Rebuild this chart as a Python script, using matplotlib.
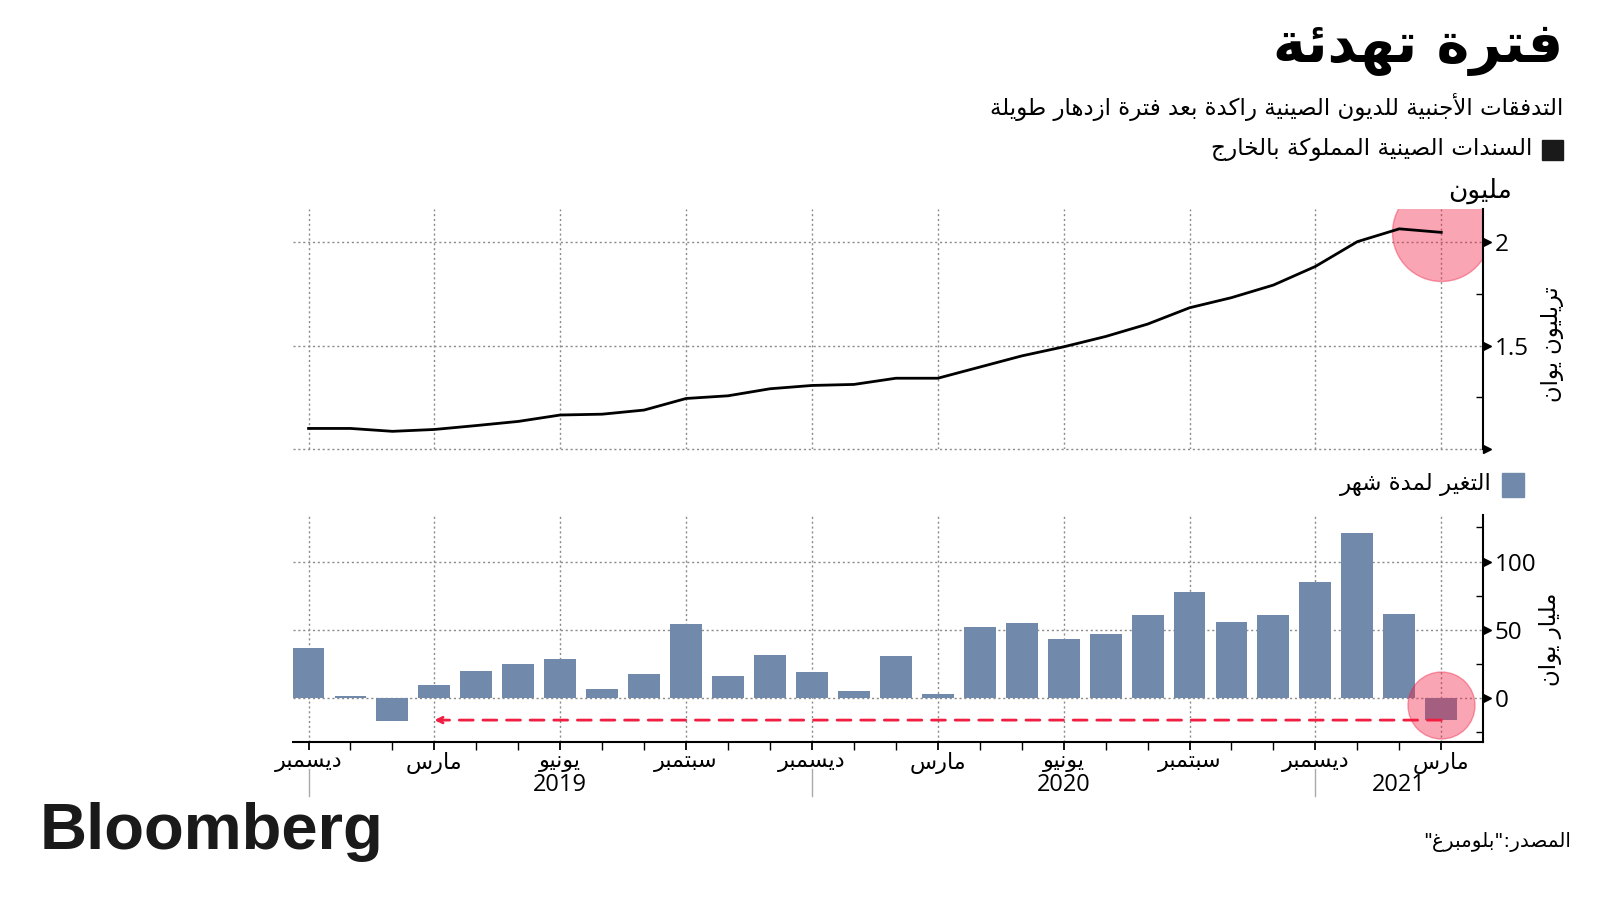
import numpy as np
import matplotlib
matplotlib.use('Agg')
import matplotlib.pyplot as plt
from matplotlib import transforms

# --- data -------------------------------------------------------------------
months = ['2018-12', '2019-01', '2019-02', '2019-03', '2019-04', '2019-05', '2019-06',
          '2019-07', '2019-08', '2019-09', '2019-10', '2019-11', '2019-12', '2020-01',
          '2020-02', '2020-03', '2020-04', '2020-05', '2020-06', '2020-07', '2020-08',
          '2020-09', '2020-10', '2020-11', '2020-12', '2021-01', '2021-02', '2021-03']

# foreign-held Chinese bonds, trillion yuan
holdings = [1.100, 1.100, 1.086, 1.095, 1.114, 1.134, 1.165, 1.169, 1.189, 1.245,
            1.258, 1.292, 1.308, 1.313, 1.343, 1.343, 1.397, 1.451, 1.495, 1.545,
            1.605, 1.684, 1.733, 1.794, 1.884, 2.004, 2.066, 2.049]

# monthly change, billion yuan
change = [37, 2, -17, 10, 20, 25, 29, 7, 18, 54, 16, 32, 19, 5, 31, 3, 52, 55, 43,
          47, 61, 78, 56, 61, 85, 121, 62, -16]

month_names = {'12': 'ديسمبر', '03': 'مارس', '06': 'يونيو', '09': 'سبتمبر'}
year_labels = {'2019-06': '2019', '2020-06': '2020', '2021-02': '2021'}

title = 'فترة تهدئة'
subtitle = 'التدفقات الأجنبية للديون الصينية راكدة بعد فترة ازدهار طويلة'
legend_top = 'السندات الصينية المملوكة بالخارج'
legend_bottom = 'التغير لمدة شهر'
unit_top = 'مليون'
ylabel_top = 'تريليون يوان'
ylabel_bottom = 'مليار يوان'
source = 'المصدر:"بلومبرغ"'


# --- tiny Arabic shaper: matplotlib lays text out left to right, unshaped ----
FORMS = {  # letter: (isolated form, joins on both sides)
    'ا': (0xFE8D, False), 'أ': (0xFE83, False), 'ب': (0xFE8F, True), 'ة': (0xFE93, False),
    'ت': (0xFE95, True), 'ج': (0xFE9D, True), 'خ': (0xFEA5, True), 'د': (0xFEA9, False),
    'ر': (0xFEAD, False), 'ز': (0xFEAF, False), 'س': (0xFEB1, True), 'ش': (0xFEB5, True),
    'ص': (0xFEB9, True), 'ط': (0xFEC1, True), 'ع': (0xFEC9, True), 'غ': (0xFECD, True),
    'ف': (0xFED1, True), 'ق': (0xFED5, True), 'ك': (0xFED9, True), 'ل': (0xFEDD, True),
    'م': (0xFEE1, True), 'ن': (0xFEE5, True), 'ه': (0xFEE9, True), 'و': (0xFEED, False),
    'ي': (0xFEF1, True), 'ئ': (0xFE89, True),
}
LAM_ALEF = {'ا': 0xFEFB, 'أ': 0xFEF7}


def ar(text):
    'Shape Arabic text and put it in visual order.'
    out = []
    i = 0
    while i < len(text):
        c = text[i]
        if c not in FORMS:
            out.append(c)
            i += 1
            continue
        prev = text[i-1] if i > 0 else ''
        nxt = text[i+1] if i + 1 < len(text) else ''
        joins_prev = prev in FORMS and FORMS[prev][1]
        if c == 'ل' and nxt in LAM_ALEF:
            out.append(chr(LAM_ALEF[nxt] + joins_prev))
            i += 2
            continue
        base, dual = FORMS[c]
        joins_next = dual and nxt in FORMS
        k = 3 if (joins_prev and joins_next) else 2 if joins_next else 1 if joins_prev else 0
        out.append(chr(base + k))
        i += 1
    return ''.join(out)[::-1]


AR = ['DejaVu Sans']
NUM = ['Open Sans', 'DejaVu Sans']
BAR = '#7189ab'
RED = '#f01e41'
GRID = dict(color='#8a8a8a', linestyle=(0, (1.5, 2)), linewidth=1)

x = np.arange(len(months))
major = [i for i, m in enumerate(months) if m[5:] in month_names]

fig = plt.figure(figsize=(16, 9), dpi=100)
ax1 = fig.add_axes([0.183, 0.501, 0.744, 0.267])
ax2 = fig.add_axes([0.183, 0.1756, 0.744, 0.252])

for ax in (ax1, ax2):
    ax.set_xlim(-0.375, 28.0)
    for s in ('top', 'left'):
        ax.spines[s].set_visible(False)
    ax.spines['right'].set_linewidth(1.5)
    ax.set_xticks(major)
    ax.set_xticks(x, minor=True)
    ax.grid(axis='x', which='major', **GRID)
    ax.grid(axis='y', which='major', **GRID)
    ax.set_axisbelow(True)
    ax.yaxis.tick_right()

# --- top panel: holdings ----------------------------------------------------
ax1.plot(x, holdings, color='black', lw=2, zorder=3)
ax1.scatter([x[-1]], [holdings[-1]], s=4980, color=RED, alpha=0.4,
            edgecolor=RED, lw=1, zorder=2)
ax1.set_ylim(1.0, 2.163)
ax1.set_yticks([1.0, 1.5, 2.0])
ax1.set_yticklabels(['', '1.5', '2'])
ax1.set_yticks([1.25, 1.75], minor=True)
ax1.spines['bottom'].set_visible(False)
ax1.tick_params(axis='x', which='both', length=0, labelbottom=False)

# --- bottom panel: monthly change -------------------------------------------
ax2.bar(x, change, width=0.76, color=BAR, zorder=2)
ax2.scatter([x[-1]], [-5], s=2330, color=RED, alpha=0.4,
            edgecolor=RED, lw=1, zorder=3)
ax2.annotate('', xy=(3, change[-1]), xytext=(27, change[-1]),
             arrowprops=dict(arrowstyle='->', color=RED, lw=2,
                             linestyle=(0, (5, 3.5)), shrinkA=0, shrinkB=0),
             zorder=4)
ax2.set_ylim(-32, 134)
ax2.set_yticks([0, 50, 100])
ax2.set_yticklabels(['0', '50', '100'])
ax2.set_yticks([-25, 25, 75, 125], minor=True)
ax2.spines['bottom'].set_linewidth(1.5)
ax2.set_xticklabels([ar(month_names[months[i][5:]]) for i in major], family=AR, fontsize=16)
ax2.tick_params(axis='x', which='both', direction='out', length=6, width=1, pad=1)
ax2.tick_params(axis='x', which='major', width=1.3)

for ax in (ax1, ax2):
    ax.tick_params(axis='y', which='major', length=0, pad=8)
    ax.tick_params(axis='y', which='minor', direction='in', length=5, width=1)
    for lab in ax.get_yticklabels():
        lab.set_family(NUM)
        lab.set_fontsize(17.5)
    for gl in ax.get_ygridlines():
        gl.set_clip_on(False)

# year labels and separators under December
tb = transforms.blended_transform_factory(ax2.transData, ax2.transAxes)
for i, m in enumerate(months):
    if m in year_labels:
        ax2.text(i, -0.19, year_labels[m], transform=tb, ha='center', va='center',
                 fontsize=17, family=NUM)
    if m.endswith('-12'):
        ax2.plot([i, i], [-0.12, -0.24], transform=tb, color='#aaaaaa', lw=1,
                 clip_on=False)

# triangle markers for major y ticks
for ax, ticks in ((ax1, [1.0, 1.5, 2.0]), (ax2, [0, 50, 100])):
    t = transforms.blended_transform_factory(ax.transAxes, ax.transData)
    t = t + transforms.ScaledTranslation(3 / 72, 0, fig.dpi_scale_trans)
    ax.plot([1] * len(ticks), ticks, linestyle='none', marker='>', markersize=6,
            color='black', transform=t, clip_on=False)

# --- texts --------------------------------------------------------------------
fig.text(0.977, 0.945, ar(title), ha='right', va='center', fontsize=40,
         weight='bold', family=AR)
fig.text(0.977, 0.881, ar(subtitle), ha='right', va='center', fontsize=16.5, family=AR)
fig.patches.append(plt.Rectangle((0.964, 0.822), 0.0128, 0.022, color='#1a1a1a',
                                 transform=fig.transFigure, figure=fig))
fig.text(0.958, 0.834, ar(legend_top), ha='right', va='center', fontsize=16.7, family=AR)
fig.text(0.925, 0.788, ar(unit_top), ha='center', va='center', fontsize=19, family=AR)
fig.patches.append(plt.Rectangle((0.939, 0.448), 0.0133, 0.026, color=BAR,
                                 transform=fig.transFigure, figure=fig))
fig.text(0.9325, 0.462, ar(legend_bottom), ha='right', va='center', fontsize=16.5, family=AR)
fig.text(0.970, 0.618, ar(ylabel_top), ha='center', va='center', fontsize=16.3,
         rotation=90, family=AR)
fig.text(0.969, 0.290, ar(ylabel_bottom), ha='center', va='center', fontsize=16.5,
         rotation=90, family=AR)
fig.text(0.025, 0.057, 'Bloomberg', ha='left', va='baseline', fontsize=47,
         weight='bold', family=['Liberation Sans', 'DejaVu Sans'], color='#1a1a1a')
fig.text(0.982, 0.064, ar(source), ha='right', va='center', fontsize=14.3, family=AR)

fig.savefig('out.png', dpi=100)
